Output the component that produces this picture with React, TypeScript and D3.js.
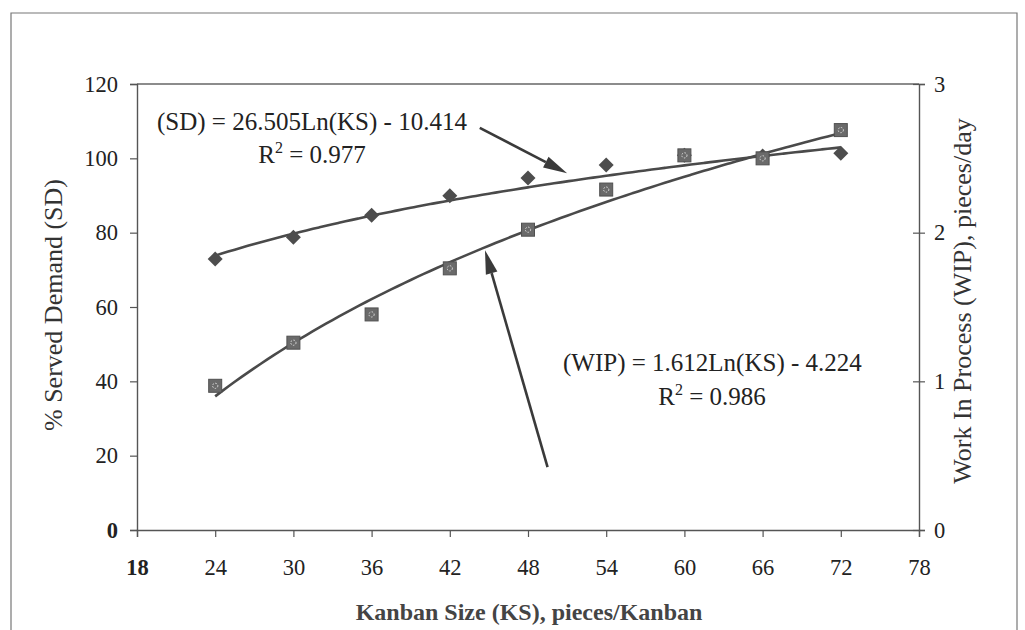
import React, { useEffect, useRef } from 'react';
import * as d3 from 'd3';

// Kanban size (pieces/Kanban)
const ksValues = [24, 30, 36, 42, 48, 54, 60, 66, 72];
// % Served Demand, left axis
const sdValues = [72.9, 78.8, 84.7, 89.9, 94.7, 98.2, 100.8, 100.6, 101.4];
// Work in process, pieces/day, right axis
const wipValues = [0.97, 1.26, 1.45, 1.76, 2.02, 2.29, 2.52, 2.5, 2.69];

const xTicks = [18, 24, 30, 36, 42, 48, 54, 60, 66, 72, 78];
const leftTicks = [0, 20, 40, 60, 80, 100, 120];
const rightTicks = [0, 1, 2, 3];

// log trend lines printed on the chart
const sdFit = [26.505, -10.414];
const wipFit = [1.612, -4.224];

const W = 1025;
const H = 630;
const FONT = "'Liberation Serif', 'DejaVu Serif', serif";

const App = () => {
    const svgRef = useRef(null);

    useEffect(() => {
        const svg = d3.select(svgRef.current);
        svg.selectAll('*').remove();

        const x = d3.scaleLinear().domain([18, 78]).range([137, 919]);
        const yL = d3.scaleLinear().domain([0, 120]).range([530, 84]);
        const yR = d3.scaleLinear().domain([0, 3]).range([530, 84]);

        // outer frame
        svg.append('path')
            .attr('d', `M11,${H} L11,13 L1017,13 L1017,${H}`)
            .attr('fill', 'none')
            .attr('stroke', '#777')
            .attr('stroke-width', 1.2);

        // plot top border
        svg.append('line')
            .attr('x1', x(18)).attr('x2', x(78))
            .attr('y1', yL(120)).attr('y2', yL(120))
            .attr('stroke', '#666').attr('stroke-width', 1.3);

        // left axis
        const left = svg.append('g')
            .attr('transform', `translate(${x(18)},0)`)
            .call(d3.axisLeft(yL).tickValues(leftTicks).tickSize(7).tickPadding(12));
        // right axis
        const right = svg.append('g')
            .attr('transform', `translate(${x(78)},0)`)
            .call(d3.axisRight(yR).tickValues(rightTicks).tickFormat(d3.format('d')).tickSize(6).tickPadding(9));
        right.selectAll('.tick line').attr('x1', -6);
        // bottom axis
        const bottom = svg.append('g')
            .attr('transform', `translate(0,${yL(0)})`)
            .call(d3.axisBottom(x).tickValues(xTicks).tickSize(7).tickPadding(22));

        [left, right, bottom].forEach(g => {
            g.select('.domain').attr('stroke', '#555').attr('stroke-width', 1.4);
            g.selectAll('.tick line').attr('stroke', '#555').attr('stroke-width', 1.2);
            g.selectAll('.tick text')
                .attr('font-family', FONT)
                .attr('font-size', 22.5)
                .attr('fill', '#222');
        });
        bottom.select('.tick text').attr('font-weight', 'bold');
        left.select('.tick text').attr('font-weight', 'bold');

        // trend lines
        const fitLine = (fit, y) => d3.line()
            .x(d => x(d))
            .y(d => y(fit[0] * Math.log(d) + fit[1]))
            .curve(d3.curveMonotoneX);
        const samples = d3.range(ksValues[0], ksValues[ksValues.length - 1] + 0.01, 0.5);

        svg.append('path')
            .attr('d', fitLine(sdFit, yL)(samples))
            .attr('fill', 'none').attr('stroke', '#4a4a4a').attr('stroke-width', 2.6);
        svg.append('path')
            .attr('d', fitLine(wipFit, yR)(samples))
            .attr('fill', 'none').attr('stroke', '#4a4a4a').attr('stroke-width', 2.6);

        // SD diamonds
        const r = 7.5;
        svg.selectAll('.sd')
            .data(ksValues.map((k, i) => [k, sdValues[i]]))
            .join('path')
            .attr('class', 'sd')
            .attr('d', d => {
                const cx = x(d[0]);
                const cy = yL(d[1]);
                return `M${cx},${cy - r} L${cx + r},${cy} L${cx},${cy + r} L${cx - r},${cy} Z`;
            })
            .attr('fill', '#4d4d4d');

        // WIP squares
        const s = 13;
        const sq = svg.selectAll('.wip')
            .data(ksValues.map((k, i) => [k, wipValues[i]]))
            .join('g')
            .attr('class', 'wip')
            .attr('transform', d => `translate(${x(d[0])},${yR(d[1])})`);
        sq.append('rect')
            .attr('x', -s / 2).attr('y', -s / 2)
            .attr('width', s).attr('height', s)
            .attr('fill', '#6a6a6a')
            .attr('stroke', '#505050').attr('stroke-width', 1);
        sq.append('circle')
            .attr('r', 2.6)
            .attr('fill', 'none')
            .attr('stroke', '#e0e0e0')
            .attr('stroke-width', 1)
            .attr('stroke-dasharray', '1.5,1.5');

        // arrows
        const arrow = (x1, y1, x2, y2) => {
            const ang = Math.atan2(y2 - y1, x2 - x1);
            const len = 24;
            const hw = 6;
            const bx = x2 - len * Math.cos(ang);
            const by = y2 - len * Math.sin(ang);
            svg.append('line')
                .attr('x1', x1).attr('y1', y1).attr('x2', bx).attr('y2', by)
                .attr('stroke', '#3a3a3a').attr('stroke-width', 2.6);
            svg.append('path')
                .attr('d', `M${x2},${y2} L${bx + hw * Math.sin(ang)},${by - hw * Math.cos(ang)} L${bx - hw * Math.sin(ang)},${by + hw * Math.cos(ang)} Z`)
                .attr('fill', '#3a3a3a');
        };
        arrow(x(44.3), yL(108.2), x(51.0), yL(96.0));
        arrow(x(49.5), yL(16.9), x(44.7), yL(75.3));

        // equation labels
        const label = (tx, ty, anchor) => svg.append('text')
            .attr('x', tx).attr('y', ty)
            .attr('text-anchor', anchor)
            .attr('font-family', FONT)
            .attr('font-size', 25)
            .attr('fill', '#222');

        label(157, 130, 'start').text('(SD) = 26.505Ln(KS) - 10.414');
        const r1 = label(312, 163, 'middle');
        r1.append('tspan').text('R');
        r1.append('tspan').attr('dy', -10).attr('font-size', 16).text('2');
        r1.append('tspan').attr('dy', 10).text(' = 0.977');

        label(563, 371, 'start').text('(WIP) = 1.612Ln(KS) - 4.224');
        const r2 = label(712, 405, 'middle');
        r2.append('tspan').text('R');
        r2.append('tspan').attr('dy', -10).attr('font-size', 16).text('2');
        r2.append('tspan').attr('dy', 10).text(' = 0.986');

        // axis titles
        svg.append('text')
            .attr('transform', 'translate(62,305) rotate(-90)')
            .attr('text-anchor', 'middle')
            .attr('font-family', FONT).attr('font-size', 26).attr('fill', '#333')
            .text('% Served Demand (SD)');
        svg.append('text')
            .attr('transform', 'translate(971,301) rotate(-90)')
            .attr('text-anchor', 'middle')
            .attr('font-family', FONT).attr('font-size', 26).attr('fill', '#333')
            .text('Work In Process (WIP), pieces/day');
        svg.append('text')
            .attr('x', 529).attr('y', 620)
            .attr('text-anchor', 'middle')
            .attr('font-family', FONT).attr('font-size', 24).attr('font-weight', 'bold').attr('fill', '#444')
            .text('Kanban Size (KS), pieces/Kanban');
    }, []);

    return (
        <div style={{ position: 'absolute', left: 0, top: 0, width: W, height: H, background: '#fff' }}>
            <svg ref={svgRef} width={W} height={H} style={{ display: 'block' }}></svg>
        </div>
    );
};

export default App;
